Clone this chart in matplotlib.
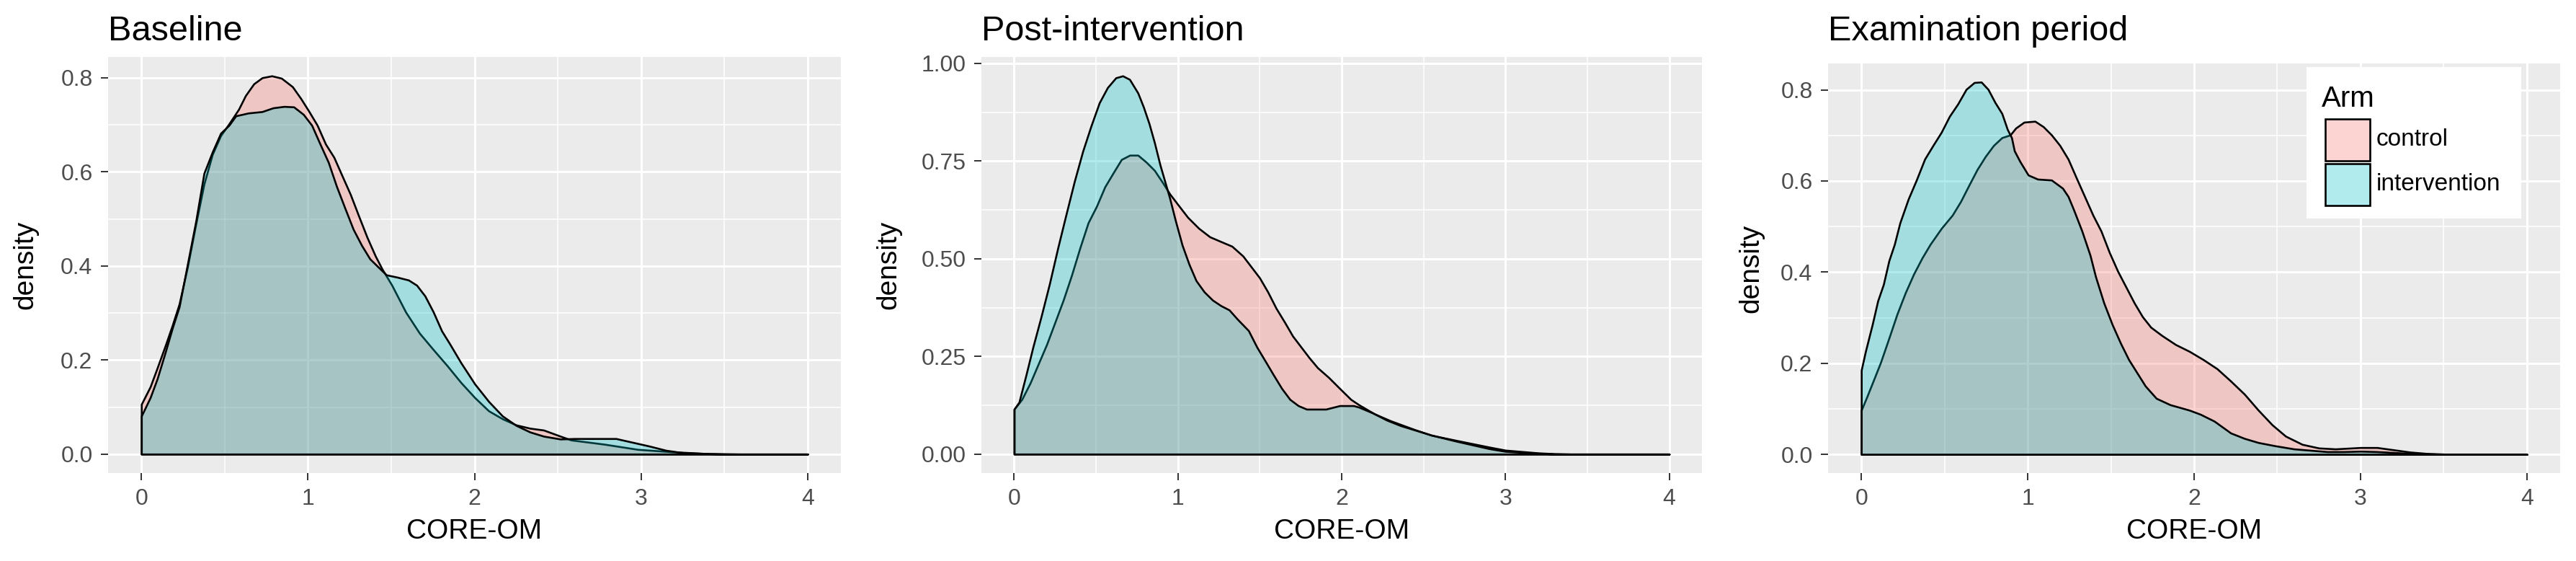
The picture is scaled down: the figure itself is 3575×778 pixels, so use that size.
import matplotlib
matplotlib.use("Agg")
import matplotlib.pyplot as plt
from matplotlib.patches import Rectangle
from matplotlib.ticker import FixedLocator

plt.rcParams['font.family'] = ['Liberation Sans', 'DejaVu Sans']

# ---------------- data ----------------
panel_titles = ["Baseline", "Post-intervention", "Examination period"]
arms = ["control", "intervention"]
arm_colors = ["#F8766D", "#00BFC4"]
x_label = "CORE-OM"
y_label = "density"
x_ticks = [0, 1, 2, 3, 4]
y_ticks_base = [0.0, 0.2, 0.4, 0.6, 0.8]
y_ticks_post = [0.00, 0.25, 0.50, 0.75, 1.00]
y_ticks_exam = [0.0, 0.2, 0.4, 0.6, 0.8]

base_ctrl_x = [0, 0.053, 0.095, 0.144, 0.186, 0.227, 0.277, 0.327, 0.376, 0.426, 0.476, 0.526, 0.584, 0.625,
               0.675, 0.725, 0.783, 0.841, 0.907, 0.957, 1.007, 1.056, 1.106, 1.156, 1.206, 1.255, 1.305, 1.355,
               1.405, 1.446, 1.504, 1.587, 1.670, 1.753, 1.836, 1.919, 2.002, 2.085, 2.168, 2.250, 2.333, 2.416,
               2.516, 2.58, 2.78, 2.98, 3.18, 3.4, 3.6, 4.0]
base_ctrl_y = [0.106, 0.143, 0.183, 0.231, 0.274, 0.319, 0.398, 0.489, 0.574, 0.637, 0.677, 0.702, 0.733, 0.762,
               0.787, 0.800, 0.804, 0.799, 0.781, 0.756, 0.728, 0.699, 0.659, 0.631, 0.591, 0.552, 0.506, 0.461,
               0.421, 0.393, 0.359, 0.302, 0.257, 0.222, 0.188, 0.152, 0.120, 0.092, 0.075, 0.062, 0.055, 0.051,
               0.038, 0.030, 0.021, 0.010, 0.005, 0.001, 0.0, 0.0]
base_int_x = [0, 0.053, 0.095, 0.144, 0.186, 0.227, 0.277, 0.327, 0.376, 0.426, 0.476, 0.526, 0.567, 0.642,
              0.725, 0.791, 0.857, 0.915, 0.973, 1.023, 1.073, 1.123, 1.172, 1.222, 1.272, 1.322, 1.372, 1.421,
              1.471, 1.537, 1.604, 1.653, 1.703, 1.753, 1.803, 1.852, 1.919, 2.002, 2.085, 2.168, 2.250, 2.333,
              2.416, 2.516, 2.6, 2.85, 2.95, 3.05, 3.15, 3.25, 3.4, 3.5, 4.0]
base_int_y = [0.081, 0.120, 0.160, 0.217, 0.268, 0.313, 0.404, 0.495, 0.597, 0.642, 0.682, 0.699, 0.719, 0.725,
              0.728, 0.736, 0.739, 0.738, 0.722, 0.699, 0.659, 0.620, 0.569, 0.523, 0.478, 0.444, 0.415, 0.398,
              0.381, 0.376, 0.370, 0.359, 0.336, 0.302, 0.262, 0.234, 0.194, 0.149, 0.112, 0.081, 0.061, 0.047,
              0.038, 0.032, 0.033, 0.033, 0.025, 0.017, 0.008, 0.003, 0.001, 0.0, 0.0]

post_ctrl_x = [0, 0.047, 0.098, 0.149, 0.199, 0.250, 0.300, 0.351, 0.402, 0.452, 0.503, 0.554, 0.604, 0.655,
               0.706, 0.756, 0.807, 0.857, 0.908, 0.950, 1.001, 1.060, 1.127, 1.195, 1.262, 1.330, 1.397, 1.448,
               1.499, 1.549, 1.600, 1.651, 1.701, 1.752, 1.803, 1.853, 1.921, 1.988, 2.056, 2.106, 2.2, 2.3,
               2.45, 2.55, 2.7, 2.9, 3.0, 3.2, 3.3, 3.4, 4.0]
post_ctrl_y = [0.115, 0.140, 0.182, 0.232, 0.281, 0.338, 0.394, 0.458, 0.528, 0.592, 0.634, 0.684, 0.719, 0.754,
               0.765, 0.765, 0.747, 0.726, 0.694, 0.666, 0.638, 0.606, 0.578, 0.556, 0.544, 0.532, 0.507, 0.479,
               0.451, 0.415, 0.373, 0.338, 0.302, 0.274, 0.246, 0.221, 0.196, 0.168, 0.140, 0.126, 0.103, 0.085,
               0.062, 0.048, 0.035, 0.018, 0.010, 0.003, 0.001, 0.0, 0.0]
post_int_x = [0, 0.030, 0.073, 0.115, 0.165, 0.216, 0.267, 0.317, 0.368, 0.419, 0.469, 0.520, 0.570, 0.621,
              0.663, 0.705, 0.756, 0.790, 0.824, 0.857, 0.891, 0.925, 0.950, 0.984, 1.026, 1.068, 1.111, 1.161,
              1.212, 1.262, 1.313, 1.364, 1.431, 1.482, 1.532, 1.583, 1.634, 1.684, 1.735, 1.786, 1.904, 1.988,
              2.073, 2.106, 2.191, 2.275, 2.359, 2.444, 2.545, 2.7, 2.9, 3.0, 3.2, 3.3, 4.0]
post_int_y = [0.115, 0.133, 0.203, 0.274, 0.352, 0.436, 0.528, 0.613, 0.698, 0.775, 0.839, 0.899, 0.938, 0.963,
              0.968, 0.959, 0.924, 0.888, 0.846, 0.797, 0.740, 0.691, 0.655, 0.599, 0.535, 0.486, 0.444, 0.415,
              0.394, 0.380, 0.369, 0.345, 0.316, 0.274, 0.239, 0.203, 0.168, 0.140, 0.124, 0.115, 0.115, 0.124,
              0.124, 0.120, 0.105, 0.087, 0.073, 0.062, 0.049, 0.033, 0.014, 0.007, 0.002, 0.0, 0.0]

exam_ctrl_x = [0, 0.033, 0.066, 0.116, 0.166, 0.215, 0.265, 0.315, 0.365, 0.414, 0.481, 0.547, 0.597, 0.646,
               0.696, 0.746, 0.795, 0.845, 0.895, 0.928, 0.978, 1.044, 1.094, 1.143, 1.193, 1.243, 1.292, 1.342,
               1.392, 1.441, 1.491, 1.541, 1.591, 1.641, 1.690, 1.740, 1.806, 1.889, 1.972, 2.055, 2.138, 2.220,
               2.303, 2.386, 2.469, 2.55, 2.65, 2.75, 2.85, 3.0, 3.1, 3.2, 3.3, 3.4, 3.55, 4.0]
exam_ctrl_y = [0.097, 0.126, 0.156, 0.202, 0.255, 0.308, 0.355, 0.396, 0.431, 0.461, 0.496, 0.525, 0.555, 0.590,
               0.625, 0.654, 0.678, 0.695, 0.701, 0.716, 0.729, 0.731, 0.719, 0.701, 0.678, 0.648, 0.607, 0.566,
               0.525, 0.490, 0.443, 0.402, 0.367, 0.332, 0.302, 0.279, 0.261, 0.241, 0.226, 0.208, 0.188, 0.161,
               0.132, 0.097, 0.065, 0.040, 0.022, 0.014, 0.012, 0.015, 0.015, 0.010, 0.005, 0.002, 0.0, 0.0]
exam_int_x = [0, 0.025, 0.066, 0.099, 0.133, 0.166, 0.199, 0.232, 0.282, 0.331, 0.381, 0.431, 0.481, 0.530,
              0.580, 0.630, 0.679, 0.721, 0.762, 0.804, 0.845, 0.878, 0.903, 0.920, 0.953, 1.003, 1.060, 1.143,
              1.210, 1.243, 1.276, 1.326, 1.375, 1.408, 1.458, 1.508, 1.558, 1.607, 1.657, 1.707, 1.773, 1.856,
              1.972, 2.038, 2.121, 2.220, 2.303, 2.386, 2.485, 2.6, 2.8, 2.9, 3.0, 3.1, 3.2, 3.3, 3.4, 3.55, 4.0]
exam_int_y = [0.185, 0.226, 0.285, 0.337, 0.373, 0.425, 0.461, 0.508, 0.560, 0.602, 0.648, 0.678, 0.707, 0.742,
              0.769, 0.801, 0.816, 0.817, 0.801, 0.772, 0.748, 0.713, 0.695, 0.666, 0.643, 0.613, 0.604, 0.602,
              0.584, 0.566, 0.537, 0.490, 0.437, 0.390, 0.332, 0.285, 0.244, 0.208, 0.179, 0.150, 0.123, 0.109,
              0.097, 0.088, 0.073, 0.047, 0.035, 0.026, 0.019, 0.012, 0.006, 0.006, 0.007, 0.006, 0.004, 0.002,
              0.001, 0.0, 0.0]

# ---------------- layout ----------------
W, H = 3575, 778
fig = plt.figure(figsize=(W / 100, H / 100), dpi=100)


def fx(px):
    return px / W


def fy(py):
    return 1 - py / H


# panel boxes in pixels: left, top, right, bottom
boxes = [(150, 79, 1167, 656), (1362, 79, 2362, 656), (2537, 88, 3553, 656)]
ylab_x = [35, 1233, 2430]
panels = [
    (base_ctrl_x, base_ctrl_y, base_int_x, base_int_y, y_ticks_base, "{:.1f}", 0.1),
    (post_ctrl_x, post_ctrl_y, post_int_x, post_int_y, y_ticks_post, "{:.2f}", 0.125),
    (exam_ctrl_x, exam_ctrl_y, exam_int_x, exam_int_y, y_ticks_exam, "{:.1f}", 0.1),
]

TICK_FS = 23
AXTITLE_FS = 28
TITLE_FS = 35
EDGE_LW = 1.9

for i, (box, pdata) in enumerate(zip(boxes, panels)):
    l, t, r, b = box
    ax = fig.add_axes([fx(l), fy(b), fx(r) - fx(l), fy(t) - fy(b)])
    cx, cy, ix, iy, yt, fmt, minor_step = pdata
    ymax = max(max(cy), max(iy))
    ax.set_xlim(-0.2, 4.2)
    ax.set_ylim(-0.05 * ymax, 1.05 * ymax)
    ax.set_facecolor("#EBEBEB")
    for s in ax.spines.values():
        s.set_visible(False)

    ax.set_xticks(x_ticks)
    ax.set_xticklabels([str(v) for v in x_ticks])
    ax.set_yticks(yt)
    ax.set_yticklabels([fmt.format(v) for v in yt])
    ax.xaxis.set_minor_locator(FixedLocator([0.5, 1.5, 2.5, 3.5]))
    ax.yaxis.set_minor_locator(FixedLocator([v + minor_step for v in yt[:-1]]))
    ax.grid(which="major", color="white", linewidth=2.2)
    ax.grid(which="minor", color="white", linewidth=1.1)
    ax.set_axisbelow(True)
    ax.tick_params(which="major", length=7.2, width=1.4, color="#333333",
                   labelcolor="#4D4D4D", labelsize=TICK_FS, pad=8.2)
    ax.tick_params(which="minor", length=0)

    for xs, ys, col in ((cx, cy, arm_colors[0]), (ix, iy, arm_colors[1])):
        rgba = matplotlib.colors.to_rgba(col, 0.3)
        ax.fill_between(xs, 0, ys, facecolor=rgba, edgecolor="black", linewidth=EDGE_LW, zorder=3)

    fig.text(fx(l), fy(56), panel_titles[i], fontsize=TITLE_FS, ha="left", va="baseline", color="black")
    fig.text(fx(ylab_x[i]), fy((t + b) / 2), y_label, rotation=90, fontsize=AXTITLE_FS,
             ha="center", va="center", color="black")
    # x-axis title centered on the panel
    fig.text(fx((l + r) / 2), fy(737), x_label, fontsize=AXTITLE_FS, ha="center", va="center",
             color="black")

# ---------------- legend (panel 3) ----------------
fig.patches.append(Rectangle((fx(3201), fy(303)), fx(3499) - fx(3201), fy(93) - fy(303),
                             transform=fig.transFigure, facecolor="white", edgecolor="none", zorder=5))
fig.text(fx(3222), fy(148), "Arm", fontsize=29, ha="left", va="baseline", zorder=6)
key_tops = [165, 227]
for k, (name, col) in enumerate(zip(arms, arm_colors)):
    kt = key_tops[k]
    fig.patches.append(Rectangle((fx(3227), fy(kt + 58)), fx(3289) - fx(3227), fy(kt) - fy(kt + 58),
                                 transform=fig.transFigure,
                                 facecolor=matplotlib.colors.to_rgba(col, 0.3),
                                 edgecolor="black", linewidth=EDGE_LW, zorder=6))
    fig.text(fx(3298), fy(kt + 29), name, fontsize=24, ha="left", va="center", zorder=7)

fig.savefig("out.png", dpi=100)
